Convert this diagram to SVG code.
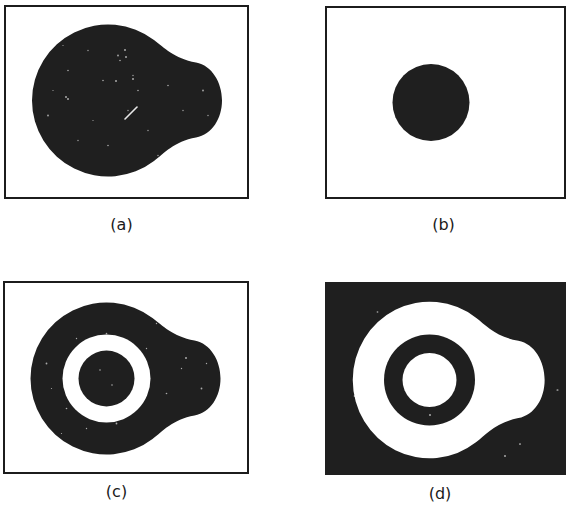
<svg xmlns="http://www.w3.org/2000/svg" width="566" height="505" viewBox="0 0 566 505">
<style>
.frame{fill:#fff;stroke:#1c1c1c;stroke-width:2}
.dark{fill:#1f1f1f}
.light{fill:#fff}
.lbl{font-family:"DejaVu Sans","Liberation Sans",sans-serif;font-size:16px;fill:#1a1a1a;text-anchor:middle}
.sp{fill:#d8d8d8;opacity:0.75}
</style>
<defs>
<path id="blob" d="M -76,0 A 76 76 0 0 1 46,-60.5 C 56,-53 66,-42 88,-38 C 104,-35 114,-18 114,0 C 114,18 104,34 88,37 C 66,41 56,53 46,60.5 A 76 76 0 0 1 -76,0 Z"/>
<g id="specks">
<circle cx="-40" cy="-30" r="0.8"/><circle cx="-20" cy="-50" r="0.7"/><circle cx="10" cy="-45" r="0.9"/><circle cx="12" cy="-40" r="0.8"/>
<circle cx="-5" cy="-20" r="0.8"/><circle cx="25" cy="-25" r="0.7"/><circle cx="30" cy="-10" r="0.8"/><circle cx="-60" cy="15" r="0.9"/>
<circle cx="-30" cy="40" r="0.7"/><circle cx="0" cy="45" r="0.8"/><circle cx="40" cy="30" r="0.7"/><circle cx="60" cy="-15" r="0.8"/>
<circle cx="75" cy="10" r="0.7"/><circle cx="95" cy="-10" r="0.9"/><circle cx="100" cy="15" r="0.7"/><circle cx="50" cy="55" r="0.7"/>
<circle cx="-45" cy="-55" r="0.6"/><circle cx="-15" cy="20" r="0.6"/><circle cx="20" cy="10" r="0.7"/><circle cx="-55" cy="-10" r="0.6"/>
</g>
</defs>

<g id="panel-a">
<rect class="frame" x="5" y="6" width="243" height="192"/>
<use href="#blob" class="dark" transform="translate(108,100.5)"/>
<use href="#specks" class="sp" transform="translate(108,100.5)"/>
<line x1="125" y1="119" x2="137" y2="107" stroke="#e8e8e8" stroke-width="1.6" stroke-linecap="round"/>
<circle class="sp" cx="66" cy="97" r="1"/><circle class="sp" cx="68" cy="99" r="1"/><circle class="sp" cx="125" cy="50" r="1"/><circle class="sp" cx="126" cy="57" r="1"/><circle class="sp" cx="116" cy="81" r="1"/><circle class="sp" cx="133" cy="79" r="1"/>
<text class="lbl" x="121.5" y="230">(a)</text>
</g>

<g id="panel-b">
<rect class="frame" x="326" y="7" width="239" height="191"/>
<circle class="dark" cx="431" cy="102.5" r="38.5"/>
<text class="lbl" x="443.5" y="230">(b)</text>
</g>

<g id="panel-c">
<rect class="frame" x="4" y="282" width="244" height="191"/>
<use href="#blob" class="dark" transform="translate(106.5,378.5)"/>
<use href="#specks" class="sp" transform="translate(106.5,378.5) scale(1,-1)"/>
<circle class="light" cx="106.5" cy="378.5" r="44"/>
<circle class="dark" cx="106.5" cy="378.5" r="28"/>
<circle class="sp" cx="100" cy="370" r="0.8"/><circle class="sp" cx="112" cy="385" r="0.8"/><circle class="sp" cx="186" cy="358" r="1"/>
<text class="lbl" x="116.5" y="497">(c)</text>
</g>

<g id="panel-d">
<rect class="dark" x="325" y="282" width="241" height="193"/>
<use href="#specks" class="sp" transform="translate(445,378) scale(1.5,1.2)"/>
<use href="#blob" class="light" transform="translate(429.5,380) scale(1.01,1.03)"/>
<circle class="dark" cx="429.5" cy="380" r="45.5"/>
<circle class="light" cx="429.5" cy="380" r="27"/>
<circle class="sp" cx="430" cy="415" r="1"/><circle class="sp" cx="505" cy="456" r="1"/>
<text class="lbl" x="440" y="499">(d)</text>
</g>
</svg>
